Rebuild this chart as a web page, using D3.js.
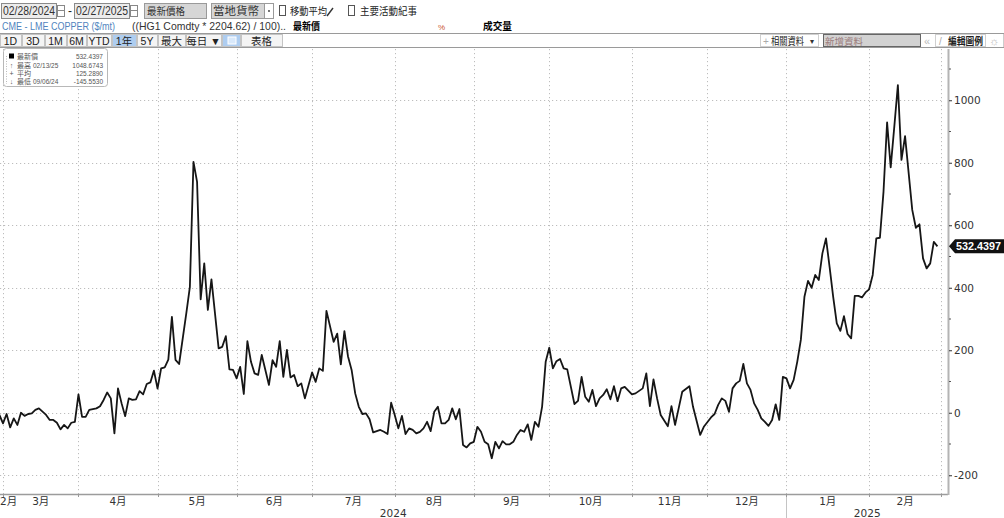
<!DOCTYPE html>
<html><head><meta charset="utf-8">
<script src="https://cdn.jsdelivr.net/npm/d3@7"></script>
<style>
body{margin:0;background:#fff;}
svg{display:block;font-family:"Liberation Sans","Noto Sans CJK TC",sans-serif;}
</style></head><body>
<svg id="c" width="1004" height="518"></svg>
<script>
// ---- data (trading-day index from 02/28/2024, spread value) ----
const copperSpread = [[0,-5],[1,-7],[2,-34],[3,-4],[4,-47],[5,-18],[6,-39],[7,0],[8,-10],[9,-4],[10,-2],[11,9],[12,14],[14,-7],[15,-23],[16,-23],[17,-32],[18,-53],[19,-39],[20,-50],[21,-32],[22,-29],[23,59],[24,-13],[25,-13],[26,9],[28,14],[29,21],[30,41],[31,65],[32,46],[33,-66],[34,78],[35,30],[36,-11],[37,46],[38,41],[39,43],[40,69],[41,59],[42,92],[43,97],[44,135],[45,77],[46,142],[47,145],[48,170],[49,307],[50,169],[51,156],[53,318],[54,403],[55,803],[56,739],[57,363],[58,478],[59,329],[60,427],[62,206],[63,211],[64,245],[65,139],[66,137],[67,110],[68,147],[69,60],[70,229],[71,163],[72,126],[73,121],[74,185],[76,89],[77,168],[78,147],[79,229],[80,115],[81,201],[82,113],[83,121],[84,85],[85,94],[86,46],[88,129],[89,99],[90,142],[91,134],[92,326],[94,227],[95,253],[96,155],[97,261],[98,180],[99,137],[100,62],[101,19],[102,-4],[103,-2],[104,-21],[105,-63],[107,-55],[108,-61],[109,-68],[110,32],[111,-7],[112,-50],[113,-10],[114,-68],[115,-50],[116,-55],[117,-66],[118,-61],[119,-50],[120,-29],[121,-59],[122,3],[123,19],[124,-34],[125,-34],[126,-23],[127,14],[128,-21],[129,12],[130,-103],[131,-111],[132,-98],[133,-93],[134,-45],[135,-61],[136,-93],[137,-101],[138,-145.55],[139,-93],[140,-114],[141,-91],[142,-101],[143,-101],[144,-93],[145,-71],[146,-55],[147,-61],[148,-37],[149,-87],[150,-29],[151,-45],[152,19],[153,163],[154,208],[155,142],[156,165],[157,172],[158,142],[159,139],[161,28],[162,38],[163,115],[164,51],[165,35],[166,73],[167,21],[168,46],[169,57],[170,75],[171,43],[172,85],[173,37],[174,78],[175,83],[177,59],[178,62],[180,78],[181,126],[182,21],[183,107],[184,46],[185,-7],[187,-43],[188,21],[189,-39],[190,14],[191,67],[193,85],[194,19],[196,-71],[197,-45],[199,-15],[200,-4],[201,25],[202,46],[203,38],[204,3],[205,78],[206,94],[207,102],[208,156],[209,94],[210,73],[211,30],[212,9],[213,-18],[214,-29],[215,-42],[216,-23],[217,27],[218,-23],[219,115],[220,110],[221,78],[222,105],[223,163],[224,233],[225,371],[226,422],[227,400],[228,441],[229,425],[230,510],[231,558],[232,467],[233,371],[234,286],[235,262],[236,309],[237,252],[238,238],[239,374],[240,374],[241,369],[242,385],[243,395],[244,441],[245,558],[246,560],[247,707],[248,929],[249,785],[250,915],[251,1048.67],[252,809],[253,885],[255,649],[256,592],[257,603],[258,494],[259,462],[260,478],[261,547],[262,532.4397]];
const monthTickDays = [2,23,45,67,88,111,133,154,177,198,220,243,263];
const monthLabels = ["2月","3月","4月","5月","6月","7月","8月","9月","10月","11月","12月","1月","2月"];
const yearLabels = ["2024","2025"];
const yearStartDay = 220;
const yMajorTicks = [-200,0,200,400,600,800,1000];
const yMinorTicks = [-100,100,300,500,700,900,1100];
const lastValue = "532.4397";
const legendSymbols = ["■","↑","+","↓"];
const legendNames = ["最新價","最高","平均","最低"];
const legendDates = ["","02/13/25","","09/06/24"];
const legendValues = ["532.4397","1048.6743","125.2890","-145.5530"];
const rangeButtons = ["1D","3D","1M","6M","YTD","1年","5Y","最大","每日 ▼","","表格"];

const svg = d3.select("#c");
const L = 0, R = 948, T = 49, B = 494;
const x = d3.scaleLinear().domain([2, 263]).range([3, 941]);
const y = d3.scaleLinear().domain([-260, 1164]).range([B, T]);

// ---- toolbar row 1 ----
const r1 = svg.append("g");
function box(g, x0, y0, w, h, fill, stroke){ g.append("rect").attr("x",x0+0.5).attr("y",y0+0.5).attr("width",w).attr("height",h).attr("fill",fill).attr("stroke",stroke).attr("stroke-width",1); }
function txt(g, s, x0, y0, o){ o=o||{}; const t=g.append("text").attr("x",x0).attr("y",y0).text(s).attr("font-size",o.size||11).attr("fill",o.fill||"#222"); if(o.len) t.attr("textLength",o.len).attr("lengthAdjust","spacingAndGlyphs"); if(o.bold) t.attr("font-weight","bold"); if(o.anchor) t.attr("text-anchor",o.anchor); return t; }
box(r1,1,3,55,15,"#ececec","#8a8a8a"); txt(r1,"02/28/2024",3,15,{size:12,len:52,fill:"#333"});
box(r1,57,5,7,11,"#fff","#888"); r1.append("line").attr("x1",58).attr("x2",64).attr("y1",10.5).attr("y2",10.5).attr("stroke","#888");
txt(r1,"-",68,15,{size:12});
box(r1,74,3,55,15,"#ececec","#8a8a8a"); txt(r1,"02/27/2025",76,15,{size:12,len:52,fill:"#333"});
box(r1,130,5,7,11,"#fff","#888"); r1.append("line").attr("x1",131).attr("x2",137).attr("y1",10.5).attr("y2",10.5).attr("stroke","#888");
box(r1,144,3,62,15,"#d6d6d6","#9a9a9a"); txt(r1,"最新價格",147,15,{size:10,len:38,fill:"#333"});
box(r1,211,3,53,15,"#d6d6d6","#9a9a9a"); txt(r1,"當地貨幣",213,15,{size:11,len:46,fill:"#333"});
box(r1,264,3,9,15,"#fff","#9a9a9a"); r1.append("circle").attr("cx",269).attr("cy",11).attr("r",0.9).attr("fill","#333");
box(r1,279,5,6,10,"#fff","#555"); txt(r1,"移動平均",290,15,{size:10,len:37,fill:"#222"});
r1.append("line").attr("x1",327).attr("y1",16).attr("x2",333).attr("y2",8).attr("stroke","#333").attr("stroke-width",1.4);
box(r1,348,5,6,10,"#fff","#555"); txt(r1,"主要活動紀事",360,15,{size:10,len:57,fill:"#222"});

// ---- row 2 ----
const r2 = svg.append("g");
txt(r2,"CME - LME COPPER ($/mt)",2,30,{size:11,len:113,fill:"#4f84be"});
txt(r2,"((HG1 Comdty * 2204.62) / 100)..",132,30,{size:11,len:154,fill:"#333"});
txt(r2,"最新價",293,30,{size:10,len:27,fill:"#000",bold:true});
txt(r2,"%",438,30,{size:8,fill:"#c9542f"});
txt(r2,"成交量",483,30,{size:10,len:29,fill:"#000",bold:true});

// ---- row 3 ----
const r3 = svg.append("g");
r3.append("rect").attr("x",0).attr("y",33.5).attr("width",1004).attr("height",14).attr("fill","#fff").attr("stroke","#9a9a9a");
const btnX = [0,22,45,67,87,112,137,158,186,222,241,283];
rangeButtons.forEach((b,i)=>{
  const x0=btnX[i], x1=btnX[i+1]-1;
  const fill = (i===5||i===9) ? "#aecdf0" : "#f4f4f4";
  r3.append("rect").attr("x",x0+0.5).attr("y",34.5).attr("width",x1-x0).attr("height",12).attr("fill",fill).attr("stroke","#c4c4c4");
  if(b) txt(r3,b,(x0+x1)/2,45,{size:10.5,anchor:"middle",fill:"#222"});
});
r3.append("rect").attr("x",228).attr("y",37).attr("width",8).attr("height",7).attr("fill","#d8e8fa").attr("stroke","#fff");
r3.append("rect").attr("x",760.5).attr("y",34.5).attr("width",58).attr("height",12).attr("fill","#fff").attr("stroke","#d0d0d0");
txt(r3,"+",763,45,{size:10,fill:"#aaa"});
txt(r3,"相關資料",771,45,{size:10,len:33,fill:"#222"});
txt(r3,"▾",810,44,{size:8,fill:"#333"});
r3.append("rect").attr("x",823.5).attr("y",34.5).attr("width",97).attr("height",12).attr("fill","#d2d2d2").attr("stroke","#666");
txt(r3,"新增資料",825,45,{size:9.5,len:38,fill:"#9a7a7a"});
txt(r3,"«",924,45,{size:11,fill:"#bbb"});
r3.append("rect").attr("x",935.5).attr("y",34.5).attr("width",50).attr("height",12).attr("fill","#fff").attr("stroke","#d0d0d0");
txt(r3,"/",939,45,{size:10,fill:"#aaa"});
txt(r3,"編輯圖例",948,45,{size:10,len:35,fill:"#222",bold:true});
txt(r3,"☼",989,45,{size:11,fill:"#bbb"});

// ---- grid ----
const grid = svg.append("g").attr("stroke","#bdbdbd").attr("stroke-dasharray","1.2,2.8").attr("stroke-width",1);
grid.selectAll("line.h").data(yMajorTicks).join("line").attr("x1",L).attr("x2",R-4).attr("y1",d=>Math.round(y(d))+0.5).attr("y2",d=>Math.round(y(d))+0.5);
grid.selectAll("line.v").data(monthTickDays).join("line").attr("x1",d=>Math.round(x(d))+0.5).attr("x2",d=>Math.round(x(d))+0.5).attr("y1",T).attr("y2",B);

// ---- axes ----
svg.append("line").attr("x1",L).attr("x2",R).attr("y1",B+0.5).attr("y2",B+0.5).attr("stroke","#9c9c9c").attr("stroke-width",1.5);
svg.append("line").attr("x1",R+0.5).attr("x2",R+0.5).attr("y1",T).attr("y2",B+1).attr("stroke","#b4b4b4").attr("stroke-width",2);
svg.append("g").selectAll("line").data(monthTickDays).join("line").attr("x1",d=>Math.round(x(d))+0.5).attr("x2",d=>Math.round(x(d))+0.5).attr("y1",B).attr("y2",B+3).attr("stroke","#999");
const yAxis = d3.axisRight(y).tickValues(yMajorTicks).tickSize(3).tickPadding(2).tickFormat(d=>d);
const ya = svg.append("g").attr("transform",`translate(${R+1},0)`).call(yAxis);
ya.select(".domain").remove();
ya.selectAll("line").attr("stroke","#333");
ya.selectAll("text").attr("font-size",10.5).attr("fill","#333").attr("font-family","DejaVu Sans");
svg.append("g").selectAll("line").data(yMinorTicks).join("line").attr("x1",R+1).attr("x2",R+3).attr("y1",d=>y(d)).attr("y2",d=>y(d)).attr("stroke","#555");

// month labels
const xa = svg.append("g").attr("font-size",10.5).attr("fill","#333").attr("font-family","DejaVu Sans, Noto Sans CJK TC");
const starts = [0].concat(monthTickDays);
monthLabels.forEach((m,i)=>{
  const a = Math.max(L, x(starts[i])), b = Math.min(R, x(starts[i+1]));
  const c = (a+b)/2;
  const t = xa.append("text").attr("y",505).text(m);
  if (i===0) t.attr("x",0).attr("text-anchor","start"); else t.attr("x",c).attr("text-anchor","middle");
});
xa.append("text").attr("x",(L+x(yearStartDay))/2).attr("y",517).attr("text-anchor","middle").text(yearLabels[0]);
xa.append("text").attr("x",(x(yearStartDay)+R)/2).attr("y",517).attr("text-anchor","middle").text(yearLabels[1]);
svg.append("line").attr("x1",Math.round(x(yearStartDay))+0.5).attr("x2",Math.round(x(yearStartDay))+0.5).attr("y1",B+3).attr("y2",518).attr("stroke","#c4c4c4");

// ---- line ----
svg.append("clipPath").attr("id","pc").append("rect").attr("x",L).attr("y",T).attr("width",R-L).attr("height",B-T);
const line = d3.line().x(d=>x(d[0])).y(d=>y(d[1]));
svg.append("path").datum(copperSpread).attr("clip-path","url(#pc)").attr("d",line).attr("fill","none").attr("stroke","#161616").attr("stroke-width",1.8).attr("stroke-linejoin","round");

// last value tag
const ly = y(copperSpread[copperSpread.length-1][1]);
svg.append("path").attr("d",`M${R+1},${ly} L${R+7},${ly-7} L1004,${ly-7} L1004,${ly+7} L${R+7},${ly+7} Z`).attr("fill","#111");
svg.append("text").attr("x",R+8).attr("y",ly+3.5).text(lastValue).attr("font-size",10).attr("font-weight","bold").attr("fill","#fff").attr("textLength",45).attr("lengthAdjust","spacingAndGlyphs");

// ---- legend ----
const lg = svg.append("g");
lg.append("rect").attr("x",3.5).attr("y",48.5).attr("width",104).attr("height",38).attr("rx",3).attr("fill","#fff").attr("stroke","#b8b8b8");
lg.append("line").attr("x1",6.5).attr("x2",6.5).attr("y1",56).attr("y2",84).attr("stroke","#bbb").attr("stroke-dasharray","1,1.5");
const rowY = [59,67.5,75.5,83.5];
legendNames.forEach((n,i)=>{
  if(i===0) lg.append("rect").attr("x",9).attr("y",rowY[i]-5.5).attr("width",5).attr("height",5).attr("fill","#000");
  else lg.append("text").attr("x",11.5).attr("y",rowY[i]).attr("text-anchor","middle").attr("font-size",7).attr("fill","#555").text(legendSymbols[i]);
  lg.append("text").attr("x",17).attr("y",rowY[i]).attr("font-size",7).attr("fill","#555").text(n);
  if(legendDates[i]) lg.append("text").attr("x",33).attr("y",rowY[i]).attr("font-size",6.5).attr("fill","#555").text(legendDates[i]);
  lg.append("text").attr("x",103).attr("y",rowY[i]).attr("text-anchor","end").attr("font-size",6.5).attr("fill","#555").text(legendValues[i]);
});
</script>
</body></html>
